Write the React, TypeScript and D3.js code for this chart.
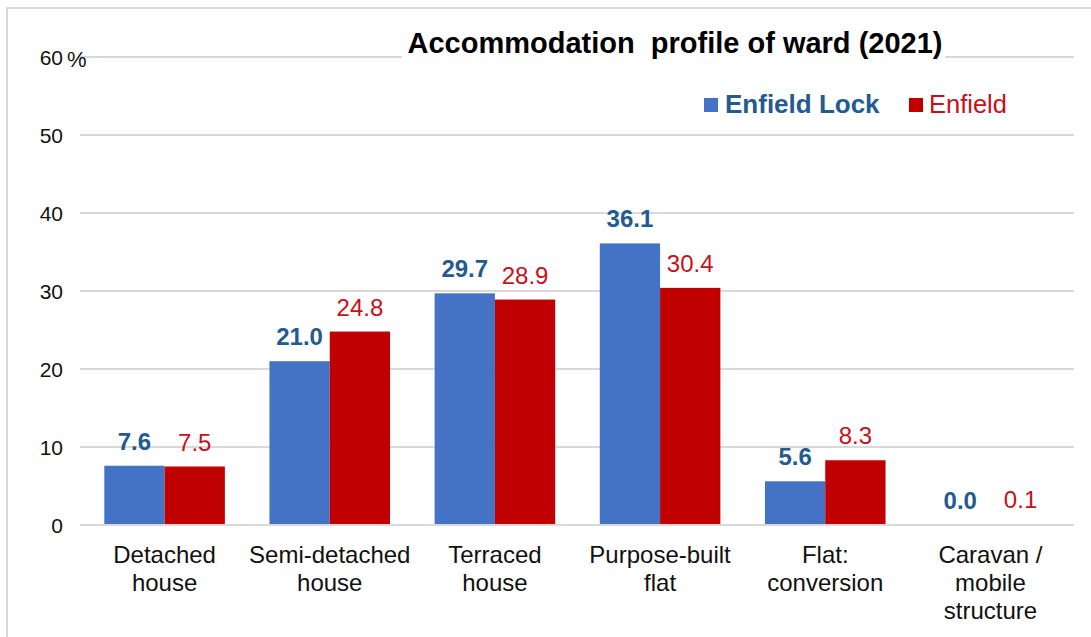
import * as d3 from "d3";
import React from "react";

const categories = [
	["Detached", "house"],
	["Semi-detached", "house"],
	["Terraced", "house"],
	["Purpose-built", "flat"],
	["Flat:", "conversion"],
	["Caravan /", "mobile", "structure"],
];
const enfieldLock = [7.6, 21.0, 29.7, 36.1, 5.6, 0.0];
const enfield = [7.5, 24.8, 28.9, 30.4, 8.3, 0.1];
const yTicks = [0, 10, 20, 30, 40, 50, 60];

const series = [
	{ name: "Enfield Lock", values: enfieldLock, fill: "#4472C4", label: "#245b8f", bold: true },
	{ name: "Enfield", values: enfield, fill: "#C00000", label: "#c8101a", bold: false },
];

const W = 1091;
const H = 637;
const font = "'Liberation Sans', Arial, sans-serif";

export default function App() {
	const keys = categories.map((c) => c.join(" "));
	const x = d3.scaleBand<string>().domain(keys).range([82, 1073]).paddingInner(0.27).paddingOuter(0.135);
	const xs = d3
		.scaleBand<string>()
		.domain(series.map((s) => s.name))
		.range([0, x.bandwidth()]);
	const y = d3.scaleLinear().domain([0, 60]).range([525, 57]);

	return (
		<svg
			width={W}
			height={H}
			style={{ position: "absolute", left: 0, top: 0, background: "#fff" }}
			fontFamily={font}
		>
			{/* frame */}
			<rect x={7} y={8} width={W + 20} height={H + 20} fill="#fff" stroke="#d9d9d9" strokeWidth={2} />

			{/* grid */}
			{yTicks.map((t) => (
				<g key={t}>
					{t > 0 && <line x1={80} x2={1074} y1={y(t)} y2={y(t)} stroke="#d9d9d9" strokeWidth={2} />}
					<text x={63} y={y(t) + 8} textAnchor="end" fontSize={21} fill="#111">
						{t}
					</text>
				</g>
			))}
			<text x={67} y={y(60) + 10} fontSize={22} fill="#111">
				%
			</text>

			{/* title */}
			<rect x={402} y={22} width={543} height={46} fill="#fff" />
			<text x={675} y={53} textAnchor="middle" fontSize={29} fontWeight="bold" fill="#000" style={{ whiteSpace: "pre" }}>
				{"Accommodation  profile of ward (2021)"}
			</text>

			{/* legend */}
			<rect x={704} y={98} width={14} height={14} fill={series[0].fill} />
			<text x={725} y={113} fontSize={26} fontWeight="bold" fill={series[0].label}>
				{series[0].name}
			</text>
			<rect x={909} y={98} width={14} height={14} fill={series[1].fill} />
			<text x={929} y={113} fontSize={25.5} fill={series[1].label}>
				{series[1].name}
			</text>

			{/* bars */}
			{series.map((s) => (
				<g key={s.name}>
					{s.values.map((v, i) => {
						const bx = (x(keys[i]) ?? 0) + (xs(s.name) ?? 0);
						return (
							<g key={i}>
								<rect x={bx} y={y(v)} width={xs.bandwidth()} height={y(0) - y(v)} fill={s.fill} />
								<text
									x={bx + xs.bandwidth() / 2}
									y={y(v) - 16}
									textAnchor="middle"
									fontSize={24}
									fontWeight={s.bold ? "bold" : "normal"}
									fill={s.label}
								>
									{v.toFixed(1)}
								</text>
							</g>
						);
					})}
				</g>
			))}

			{/* baseline on top of bars */}
			<line x1={80} x2={1074} y1={y(0)} y2={y(0)} stroke="#d9d9d9" strokeWidth={2} />

			{/* category labels */}
			{categories.map((lines, i) => (
				<text
					key={i}
					x={(x(keys[i]) ?? 0) + x.bandwidth() / 2}
					y={563}
					textAnchor="middle"
					fontSize={24}
					fill="#111"
				>
					{lines.map((l, j) => (
						<tspan key={j} x={(x(keys[i]) ?? 0) + x.bandwidth() / 2} dy={j === 0 ? 0 : 28}>
							{l}
						</tspan>
					))}
				</text>
			))}
		</svg>
	);
}
